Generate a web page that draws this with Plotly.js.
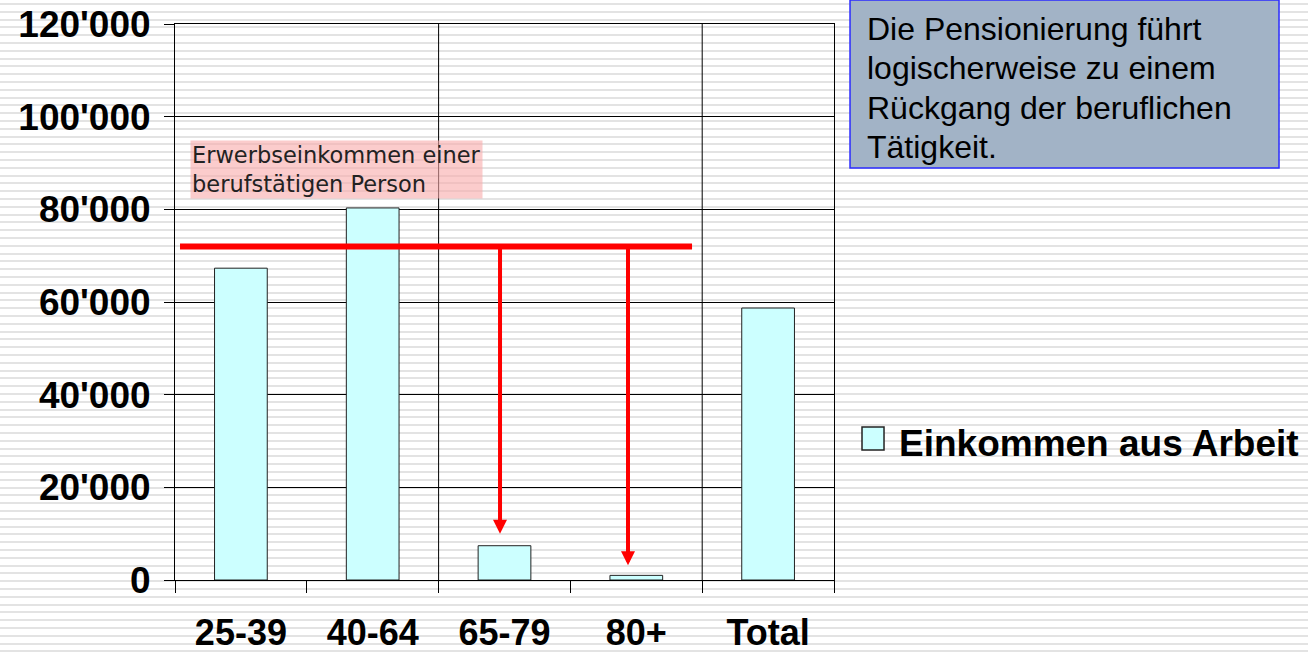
<!DOCTYPE html>
<html>
<head>
<meta charset="utf-8">
<script src="https://cdn.plot.ly/plotly-3.0.1.min.js"></script>
<style>
  html, body { margin: 0; padding: 0; }
  body {
    width: 1308px; height: 656px; overflow: hidden;
    background: repeating-linear-gradient(to bottom, #ffffff 0px, #ffffff 3px, #e3e3e3 3px, #e3e3e3 5px, #ffffff 5px, #ffffff 7.8px);
  }
  #chart { width: 1308px; height: 656px; }
</style>
</head>
<body>
<div id="chart"></div>
<script>
// ---- data ----
const categories = ['25-39', '40-64', '65-79', '80+', 'Total'];
const einkommenAusArbeit = [67300, 80300, 7400, 1000, 58700];
const seriesName = 'Einkommen aus Arbeit';
const yTickValues = [0, 20000, 40000, 60000, 80000, 100000, 120000];
const erwerbseinkommenPerson = 72000;           // red reference line
const arrowTargets = [10000, 3200];              // where the red arrows end
const noteLines = ['Die Pensionierung führt', 'logischerweise zu einem', 'Rückgang der beruflichen', 'Tätigkeit.'];
const lineLabel = 'Erwerbseinkommen einer<br>berufstätigen Person';

const FONT = 'Arial, "Liberation Sans", Helvetica, sans-serif';

const trace = {
  type: 'bar',
  x: categories,
  y: einkommenAusArbeit,
  name: seriesName,
  marker: { color: '#CCFFFF', line: { color: '#222222', width: 1 } },
  showlegend: false,
  hoverinfo: 'x+y'
};

// note box text, one annotation per line (pixel line pitch ~39px)
const noteAnnotations = noteLines.map((t, i) => ({
  xref: 'paper', yref: 'paper', x: 1.047, y: (580 - (29 + 39.3 * i)) / 556,
  xanchor: 'left', yanchor: 'middle', text: t, showarrow: false, align: 'left',
  font: { family: FONT, size: 32, color: '#000' }
}));

const layout = {
  width: 1308, height: 656,
  margin: { l: 175, r: 474, t: 24, b: 76, pad: 0 },
  paper_bgcolor: 'rgba(0,0,0,0)',
  plot_bgcolor: 'rgba(0,0,0,0)',
  separators: ".'",
  bargap: 0.6,
  font: { family: FONT, color: '#000' },
  xaxis: {
    type: 'category',
    range: [-0.5, 4.5],
    tickson: 'boundaries',
    ticks: 'outside', ticklen: 12, tickwidth: 1, tickcolor: '#000',
    showline: true, linecolor: '#000', linewidth: 1, mirror: true,
    showgrid: false, zeroline: false,
    ticklabelstandoff: 21,
    tickfont: { family: FONT, size: 36, weight: 'bold', color: '#000' },
    fixedrange: true
  },
  yaxis: {
    range: [0, 120000],
    tickvals: yTickValues,
    tickformat: ',d',
    ticks: 'outside', ticklen: 10, tickwidth: 1, tickcolor: '#000',
    showline: true, linecolor: '#000', linewidth: 1, mirror: true,
    showgrid: true, gridcolor: '#000', gridwidth: 1, zeroline: false,
    ticklabelstandoff: 6,
    tickfont: { family: FONT, size: 37, weight: 'bold', color: '#000' },
    fixedrange: true
  },
  shapes: [
    // vertical major gridlines (every second category boundary)
    { type: 'line', layer: 'below', xref: 'x', yref: 'paper', x0: 1.5, x1: 1.5, y0: 0, y1: 1, line: { color: '#000', width: 1 } },
    { type: 'line', layer: 'below', xref: 'x', yref: 'paper', x0: 3.5, x1: 3.5, y0: 0, y1: 1, line: { color: '#000', width: 1 } },
    // red reference line
    { type: 'line', layer: 'above', xref: 'x', yref: 'y', x0: -0.462, x1: 3.423,
      y0: erwerbseinkommenPerson, y1: erwerbseinkommenPerson, line: { color: '#FF0000', width: 6 } },
    // note box
    { type: 'rect', xref: 'paper', yref: 'paper', x0: 1.0243, x1: 1.6753, y0: 0.741, y1: 1.0432,
      fillcolor: '#A2B3C6', line: { color: '#2B2BFF', width: 1.5 } },
    // legend swatch
    { type: 'rect', xref: 'paper', yref: 'paper', x0: 1.0425, x1: 1.0759, y0: 0.2338, y1: 0.2752,
      fillcolor: '#CCFFFF', line: { color: '#222222', width: 1.5 } }
  ],
  annotations: [
    { xref: 'x', yref: 'y', axref: 'x', ayref: 'y',
      x: 1.966, y: arrowTargets[0], ax: 1.966, ay: erwerbseinkommenPerson,
      showarrow: true, arrowhead: 2, arrowsize: 0.7, arrowwidth: 4, arrowcolor: '#FF0000', text: '', standoff: 0, startstandoff: 0 },
    { xref: 'x', yref: 'y', axref: 'x', ayref: 'y',
      x: 2.937, y: arrowTargets[1], ax: 2.937, ay: erwerbseinkommenPerson,
      showarrow: true, arrowhead: 2, arrowsize: 0.7, arrowwidth: 4, arrowcolor: '#FF0000', text: '', standoff: 0, startstandoff: 0 },
    { xref: 'paper', yref: 'paper', x: 0.0228, y: 0.7914, xanchor: 'left', yanchor: 'top',
      text: lineLabel, showarrow: false, align: 'left',
      font: { family: '"DejaVu Sans", Verdana, sans-serif', size: 22.5, color: '#222' },
      bgcolor: 'rgba(248,170,170,0.6)', borderpad: 1 },
    ...noteAnnotations,
    { xref: 'paper', yref: 'paper', x: 1.0956, y: 0.2464, xanchor: 'left', yanchor: 'middle',
      text: seriesName, showarrow: false, align: 'left',
      font: { family: FONT, size: 37, weight: 'bold', color: '#000' } }
  ]
};

Plotly.newPlot('chart', [trace], layout, { displayModeBar: false, staticPlot: true });
</script>
</body>
</html>
